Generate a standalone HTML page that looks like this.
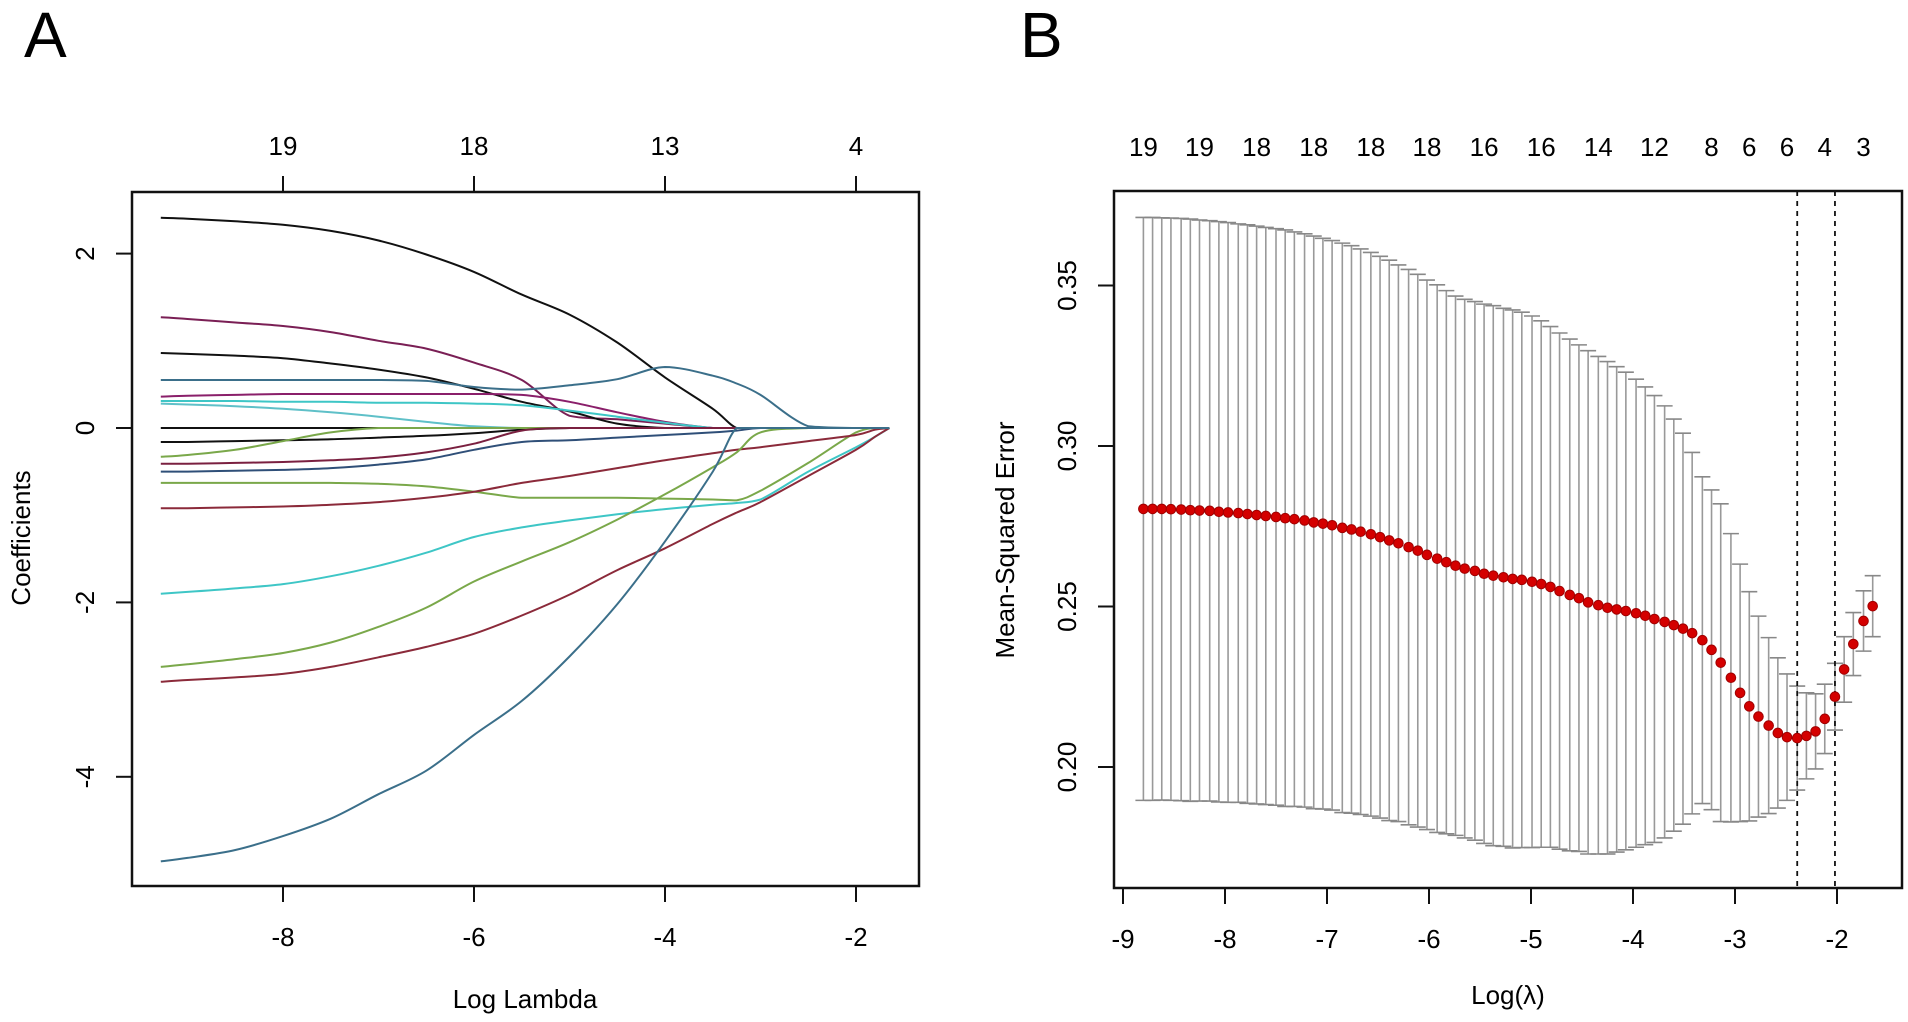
<!DOCTYPE html>
<html><head><meta charset="utf-8">
<style>
html,body{margin:0;padding:0;background:#fff;}
svg{display:block;font-family:"Liberation Sans",Arial,sans-serif;}
</style></head>
<body>
<svg id="fig" width="1908" height="1022" viewBox="0 0 1908 1022" xmlns="http://www.w3.org/2000/svg">
<rect width="1908" height="1022" fill="#fff"/>
<text x="24" y="57" font-size="64">A</text>
<text x="1020" y="57" font-size="64">B</text>
<g id="panelA"></g>
<g id="panelB"></g>
</svg>
<script>
// ---------- Panel A data ----------
const knotsA = [-9.28,-9,-8.5,-8,-7.5,-7,-6.5,-6,-5.5,-5,-4.5,-4,-3.5,-3.25,-3,-2.5,-2,-1.8,-1.65];
const coef01 = [2.41,2.40,2.37,2.33,2.26,2.15,1.99,1.79,1.53,1.30,0.98,0.58,0.22,0,0,0,0,0,0];
const coef02 = [1.27,1.25,1.21,1.17,1.10,1.00,0.91,0.75,0.55,0.14,0.10,0.05,0,0,0,0,0,0,0];
const coef03 = [0.86,0.85,0.83,0.80,0.74,0.67,0.58,0.45,0.30,0.19,0.05,0,0,0,0,0,0,0,0];
const coef04 = [0.55,0.55,0.55,0.55,0.55,0.55,0.54,0.47,0.44,0.49,0.56,0.70,0.60,0.51,0.38,0.02,0,0,0];
const coef05 = [0.36,0.37,0.38,0.39,0.39,0.39,0.39,0.39,0.38,0.30,0.18,0.07,0,0,0,0,0,0,0];
const coef06 = [0.31,0.31,0.31,0.30,0.30,0.29,0.29,0.28,0.26,0.20,0.13,0.06,0,0,0,0,0,0,0];
const coef07 = [0.28,0.27,0.25,0.22,0.18,0.13,0.07,0.02,0,0,0,0,0,0,0,0,0,0,0];
const coef08 = [0,0,0,0,0,0,0,0,0,0,0,0,0,0,0,0,0,0,0];
const coef09 = [-0.16,-0.16,-0.15,-0.14,-0.13,-0.11,-0.09,-0.06,-0.02,0,0,0,0,0,0,0,0,0,0];
const coef10 = [-0.33,-0.31,-0.25,-0.15,-0.05,0,0,0,0,0,0,0,0,0,0,0,0,0,0];
const coef11 = [-0.41,-0.41,-0.40,-0.39,-0.37,-0.34,-0.28,-0.18,-0.03,0,0,0,0,0,0,0,0,0,0];
const coef12 = [-0.50,-0.50,-0.49,-0.48,-0.46,-0.42,-0.36,-0.25,-0.16,-0.14,-0.11,-0.08,-0.05,-0.03,0,0,0,0,0];
const coef13 = [-0.63,-0.63,-0.63,-0.63,-0.63,-0.64,-0.67,-0.73,-0.80,-0.80,-0.80,-0.81,-0.82,-0.83,-0.72,-0.40,-0.05,0,0];
const coef14 = [-0.92,-0.92,-0.91,-0.90,-0.88,-0.85,-0.80,-0.73,-0.63,-0.55,-0.46,-0.37,-0.29,-0.25,-0.22,-0.15,-0.08,-0.02,0];
const coef15 = [-1.90,-1.88,-1.84,-1.79,-1.70,-1.58,-1.43,-1.25,-1.14,-1.06,-0.99,-0.93,-0.88,-0.86,-0.82,-0.50,-0.22,-0.10,0];
const coef16 = [-2.74,-2.71,-2.65,-2.58,-2.46,-2.28,-2.06,-1.76,-1.53,-1.31,-1.05,-0.76,-0.45,-0.28,-0.05,0,0,0,0];
const coef17 = [-2.91,-2.89,-2.86,-2.82,-2.74,-2.63,-2.51,-2.36,-2.15,-1.91,-1.63,-1.38,-1.10,-0.97,-0.85,-0.55,-0.25,-0.10,0];
const coef18 = [-4.97,-4.93,-4.84,-4.68,-4.48,-4.20,-3.93,-3.52,-3.13,-2.62,-2.02,-1.30,-0.50,0,0,0,0,0,0];
const seriesA = [coef01,coef02,coef03,coef04,coef05,coef06,coef07,coef08,coef09,coef10,coef11,coef12,coef13,coef14,coef15,coef16,coef17,coef18];
const colorsA = ["#111","#7a1f55","#111","#3b6f8a","#8a1f6a","#3ec6c6","#5fc0c8","#111","#111","#7aa84a","#7a2040","#2f4f78","#7aa84a","#8b2a3a","#3ec6c6","#7aa84a","#8b2a3a","#3b6f8a"];
const xTicksA = [-8,-6,-4,-2];
const yTicksA = [-4,-2,0,2];
const topLabelsA = ["19","18","13","4"];

// ---------- Panel B data ----------
const logLambda = [-8.80,-8.71,-8.62,-8.53,-8.43,-8.34,-8.25,-8.15,-8.06,-7.97,-7.87,-7.78,-7.69,-7.60,-7.50,-7.41,-7.32,-7.22,-7.13,-7.04,-6.95,-6.85,-6.76,-6.67,-6.57,-6.48,-6.39,-6.30,-6.20,-6.11,-6.02,-5.92,-5.83,-5.74,-5.65,-5.55,-5.46,-5.37,-5.27,-5.18,-5.09,-4.99,-4.90,-4.81,-4.72,-4.62,-4.53,-4.44,-4.34,-4.25,-4.16,-4.07,-3.97,-3.88,-3.79,-3.69,-3.60,-3.51,-3.42,-3.32,-3.23,-3.14,-3.04,-2.95,-2.86,-2.77,-2.67,-2.58,-2.49,-2.39,-2.30,-2.21,-2.12,-2.02,-1.93,-1.84,-1.74,-1.65];
const cvm = [.2804,.2804,.2804,.2803,.2802,.2800,.2799,.2798,.2795,.2793,.2791,.2788,.2785,.2782,.2779,.2775,.2772,.2768,.2762,.2758,.2753,.2745,.2740,.2733,.2725,.2716,.2706,.2697,.2685,.2674,.2661,.2649,.2638,.2627,.2618,.2611,.2602,.2596,.2591,.2586,.2583,.2577,.2570,.2561,.2548,.2536,.2526,.2513,.2504,.2496,.2491,.2486,.2479,.2471,.2461,.2452,.2442,.2431,.2417,.2395,.2365,.2325,.2278,.2231,.2189,.2157,.2129,.2106,.2093,.2090,.2097,.2111,.2150,.2219,.2304,.2383,.2455,.2501];
const cvsd = [.0908,.0908,.0907,.0907,.0907,.0907,.0905,.0904,.0904,.0903,.0901,.0901,.0900,.0899,.0898,.0898,.0895,.0893,.0892,.0889,.0887,.0887,.0884,.0881,.0878,.0875,.0873,.0867,.0865,.0861,.0856,.0853,.0846,.0840,.0839,.0839,.0840,.0841,.0838,.0838,.0834,.0828,.0820,.0811,.0804,.0797,.0789,.0784,.0775,.0767,.0756,.0744,.0729,.0713,.0696,.0673,.0642,.0609,.0563,.0509,.0498,.0495,.0449,.0401,.0357,.0313,.0274,.0234,.0197,.0162,.0134,.0117,.0108,.0104,.0102,.0098,.0094,.0095];
const topIdxB = [0,6,12,18,24,30,36,42,48,54,60,64,68,72,76];
const topLabelsB = ["19","19","18","18","18","18","16","16","14","12","8","6","6","4","3"];
const xTicksB = [-9,-8,-7,-6,-5,-4,-3,-2];
const yTicksB = [0.20,0.25,0.30,0.35];
const lambdaMin = -2.39;
const lambda1se = -2.02;

// ---------- helpers ----------
const NS = "http://www.w3.org/2000/svg";
function mk(parent, tag, attrs, text){
  const e = document.createElementNS(NS, tag);
  for (const k in attrs) e.setAttribute(k, attrs[k]);
  if (text !== undefined) e.textContent = text;
  parent.appendChild(e);
  return e;
}
function smoothPath(pts){
  let d = 'M' + pts[0][0].toFixed(1) + ',' + pts[0][1].toFixed(1);
  for (let i = 0; i < pts.length - 1; i++){
    const p0 = pts[Math.max(0, i - 1)], p1 = pts[i], p2 = pts[i + 1], p3 = pts[Math.min(pts.length - 1, i + 2)];
    const lo = Math.min(p1[1], p2[1]), hi = Math.max(p1[1], p2[1]);
    const c1x = p1[0] + (p2[0] - p0[0]) / 6;
    let c1y = p1[1] + (p2[1] - p0[1]) / 6;
    const c2x = p2[0] - (p3[0] - p1[0]) / 6;
    let c2y = p2[1] - (p3[1] - p1[1]) / 6;
    c1y = Math.min(hi, Math.max(lo, c1y));
    c2y = Math.min(hi, Math.max(lo, c2y));
    d += ' C' + c1x.toFixed(1) + ',' + c1y.toFixed(1) + ' ' + c2x.toFixed(1) + ',' + c2y.toFixed(1) + ' ' + p2[0].toFixed(1) + ',' + p2[1].toFixed(1);
  }
  return d;
}

// ---------- Panel A ----------
const gA = document.getElementById('panelA');
const xA = v => 283 + (v + 8) * 95.5;
const yA = v => 428 - v * 87.2;
seriesA.forEach((s, si) => {
  const pts = s.map((v, i) => [xA(knotsA[i]), yA(v)]);
  const p = mk(gA, 'path', {d: smoothPath(pts), fill: 'none', stroke: colorsA[si], 'stroke-width': 2, 'stroke-linejoin': 'round'});
  
  
});
const boxA = mk(gA, 'rect', {x: 132, y: 192, width: 787, height: 694, fill: 'none', stroke: '#111', 'stroke-width': 2.5});


xTicksA.forEach((t, i) => {
  const x = xA(t);
  const tk = mk(gA, 'line', {x1: x, x2: x, y1: 886, y2: 902, stroke: '#111', 'stroke-width': 2});
  
  
  const lb = mk(gA, 'text', {x: x, y: 946, 'font-size': 26, 'text-anchor': 'middle'}, String(t));
  
  
  const tt = mk(gA, 'line', {x1: x, x2: x, y1: 192, y2: 176, stroke: '#111', 'stroke-width': 2});
  
  
  const tl = mk(gA, 'text', {x: x, y: 155, 'font-size': 26, 'text-anchor': 'middle'}, topLabelsA[i]);
  
  
});
yTicksA.forEach(t => {
  const y = yA(t);
  const tk = mk(gA, 'line', {x1: 132, x2: 116, y1: y, y2: y, stroke: '#111', 'stroke-width': 2});
  
  
  const lb = mk(gA, 'text', {x: 94, y: y, 'font-size': 26, 'text-anchor': 'middle', transform: 'rotate(-90 94 ' + y + ')'}, String(t));
  
  
});
const xtA = mk(gA, 'text', {x: 525, y: 1008, 'font-size': 26, 'text-anchor': 'middle'}, 'Log Lambda');


const ytA = mk(gA, 'text', {x: 30, y: 538, 'font-size': 26, 'text-anchor': 'middle', transform: 'rotate(-90 30 538)'}, 'Coefficients');



// ---------- Panel B ----------
const gB = document.getElementById('panelB');
const xB = v => 1123 + (v + 9) * 102;
const yB = v => 767 - (v - 0.2) * 3210;
logLambda.forEach((l, i) => {
  const x = xB(l), yu = yB(cvm[i] + cvsd[i]), yl = yB(cvm[i] - cvsd[i]);
  const bar = mk(gB, 'line', {x1: x, x2: x, y1: yu, y2: yl, stroke: '#999', 'stroke-width': 1.6});
  
  
  const cu = mk(gB, 'line', {x1: x - 8, x2: x + 8, y1: yu, y2: yu, stroke: '#888', 'stroke-width': 1.6});
  
  
  const cl = mk(gB, 'line', {x1: x - 8, x2: x + 8, y1: yl, y2: yl, stroke: '#888', 'stroke-width': 1.6});
  
  
});
[lambdaMin, lambda1se].forEach((l, k) => {
  const x = xB(l);
  const dl = mk(gB, 'line', {x1: x, x2: x, y1: 191, y2: 888, stroke: '#111', 'stroke-width': 1.8, 'stroke-dasharray': '5,5'});
  
  
});
logLambda.forEach((l, i) => {
  const c = mk(gB, 'circle', {cx: xB(l), cy: yB(cvm[i]), r: 4.8, fill: '#d40000', stroke: '#a00000', 'stroke-width': 1});
  
  
});
const boxB = mk(gB, 'rect', {x: 1114, y: 191, width: 788, height: 697, fill: 'none', stroke: '#111', 'stroke-width': 2.5});


xTicksB.forEach(t => {
  const x = xB(t);
  const tk = mk(gB, 'line', {x1: x, x2: x, y1: 888, y2: 904, stroke: '#111', 'stroke-width': 2});
  
  
  const lb = mk(gB, 'text', {x: x, y: 948, 'font-size': 26, 'text-anchor': 'middle'}, String(t));
  
  
});
yTicksB.forEach(t => {
  const y = yB(t);
  const tk = mk(gB, 'line', {x1: 1114, x2: 1098, y1: y, y2: y, stroke: '#111', 'stroke-width': 2});
  
  
  const lb = mk(gB, 'text', {x: 1076, y: y, 'font-size': 26, 'text-anchor': 'middle', transform: 'rotate(-90 1076 ' + y + ')'}, t.toFixed(2));
  
  
});
topIdxB.forEach((idx, k) => {
  const tl = mk(gB, 'text', {x: xB(logLambda[idx]), y: 156, 'font-size': 26, 'text-anchor': 'middle'}, topLabelsB[k]);
  
  
});
const xtB = mk(gB, 'text', {x: 1508, y: 1004, 'font-size': 26, 'text-anchor': 'middle'}, 'Log(λ)');


const ytB = mk(gB, 'text', {x: 1014, y: 540, 'font-size': 26, 'text-anchor': 'middle', transform: 'rotate(-90 1014 540)'}, 'Mean-Squared Error');


</script>
</body></html>
